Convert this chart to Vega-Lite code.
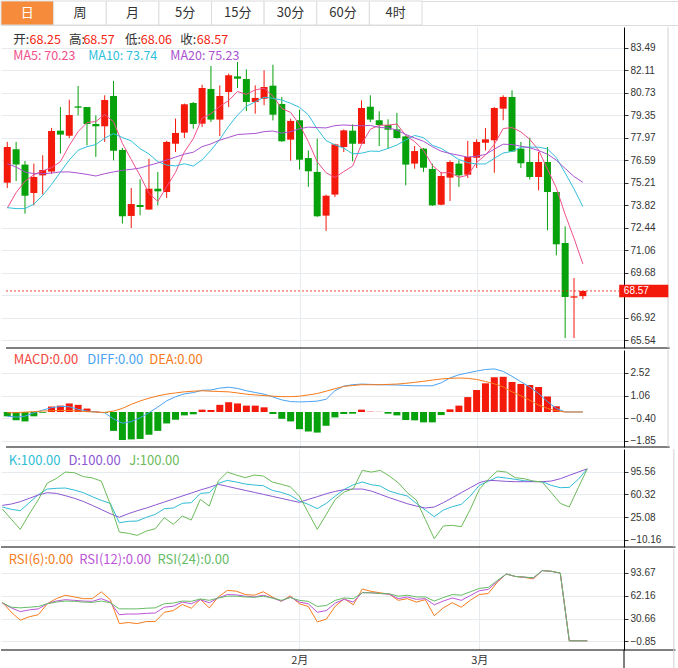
{
  "$schema": "https://vega.github.io/schema/vega-lite/v6.json",
  "padding": 0,
  "spacing": 0,
  "background": "white",
  "resolve": {"scale": {"color": "independent"}},
  "config": {
    "view": {"stroke": null},
    "axis": {"labelFont": "Liberation Sans", "labelFontSize": 10, "labelColor": "#333333", "gridColor": "#e6ebf0", "domainColor": "#000000", "tickColor": "#333333", "tickSize": 4, "labelPadding": 2, "labelOverlap": false},
    "text": {"font": "Noto Sans CJK SC", "fontSize": 13, "align": "left", "baseline": "middle"}
  },
  "datasets": {
    "one": [{}],
    "k": [
      {"i":0,"o":75.21,"h":77.71,"l":74.88,"c":77.40,"m5":73.65,"m10":73.68,"m20":76.38,"dif":-0.27,"dea":-0.05,"macd":-0.28,"kk":40.9,"dd":43.4,"jj":38,"r6":53.5,"r12":52.1,"r24":52.6},
      {"i":1,"o":77.26,"h":77.71,"l":75.31,"c":76.32,"m5":74.60,"m10":73.62,"m20":76.17,"dif":-0.33,"dea":-0.04,"macd":-0.54,"kk":37.3,"dd":45.5,"jj":22,"r6":39.4,"r12":45.5,"r24":46.4},
      {"i":2,"o":76.32,"h":76.54,"l":73.31,"c":74.41,"m5":75.30,"m10":73.62,"m20":75.87,"dif":-0.27,"dea":-0.01,"macd":-0.61,"kk":35.2,"dd":49.2,"jj":6.3,"r6":28.5,"r12":40.3,"r24":45.5},
      {"i":3,"o":74.58,"h":76.38,"l":73.82,"c":75.56,"m5":75.70,"m10":73.90,"m20":75.76,"dif":-0.05,"dea":0.02,"macd":-0.28,"kk":47.6,"dd":54.3,"jj":30,"r6":33.2,"r12":42.7,"r24":46.4},
      {"i":4,"o":75.66,"h":76.89,"l":74.48,"c":75.99,"m5":75.94,"m10":74.43,"m20":75.76,"dif":0.12,"dea":0.06,"macd":-0.05,"kk":60.0,"dd":59.5,"jj":52,"r6":36.0,"r12":44.1,"r24":47.4},
      {"i":5,"o":75.89,"h":78.57,"l":75.76,"c":78.38,"m5":76.13,"m10":75.10,"m20":75.80,"dif":0.28,"dea":0.08,"macd":0.35,"kk":68.7,"dd":63.1,"jj":78,"r6":51.2,"r12":51.2,"r24":51.2},
      {"i":6,"o":78.40,"h":79.85,"l":76.99,"c":78.16,"m5":76.50,"m10":75.86,"m20":75.87,"dif":0.36,"dea":0.10,"macd":0.41,"kk":69.8,"dd":62.0,"jj":85,"r6":58.2,"r12":54.9,"r24":53.5},
      {"i":7,"o":78.09,"h":80.30,"l":77.95,"c":79.36,"m5":77.49,"m10":76.60,"m20":75.87,"dif":0.34,"dea":0.10,"macd":0.55,"kk":70.3,"dd":58.5,"jj":95,"r6":63.0,"r12":56.8,"r24":54.9},
      {"i":8,"o":79.89,"h":81.14,"l":79.34,"c":79.81,"m5":78.34,"m10":77.20,"m20":75.80,"dif":0.17,"dea":0.06,"macd":0.46,"kk":67.2,"dd":54.5,"jj":94,"r6":60.6,"r12":55.9,"r24":54.5},
      {"i":9,"o":79.85,"h":79.85,"l":77.50,"c":78.81,"m5":78.90,"m10":77.42,"m20":75.72,"dif":0.06,"dea":0.02,"macd":0.22,"kk":63.1,"dd":49.5,"jj":88,"r6":58.2,"r12":54.9,"r24":53.5},
      {"i":10,"o":78.81,"h":79.34,"l":76.79,"c":78.67,"m5":78.96,"m10":77.55,"m20":75.62,"dif":-0.01,"dea":-0.01,"macd":0.03,"kk":56.9,"dd":43.5,"jj":86,"r6":58.2,"r12":54.5,"r24":53.0},
      {"i":11,"o":78.67,"h":80.57,"l":77.71,"c":80.28,"m5":79.39,"m10":77.94,"m20":75.76,"dif":-0.05,"dea":-0.03,"macd":-0.05,"kk":51.2,"dd":37.0,"jj":81,"r6":67.7,"r12":58.2,"r24":54.9},
      {"i":12,"o":80.53,"h":81.45,"l":76.58,"c":77.17,"m5":78.95,"m10":78.22,"m20":75.87,"dif":-0.45,"dea":0.06,"macd":-1.22,"kk":46.6,"dd":30.5,"jj":45,"r6":56.8,"r12":53.5,"r24":52.6},
      {"i":13,"o":77.22,"h":77.34,"l":72.70,"c":73.15,"m5":77.62,"m10":77.98,"m20":75.97,"dif":-0.72,"dea":0.23,"macd":-1.81,"kk":16.6,"dd":25.0,"jj":2.2,"r6":23.8,"r12":36.0,"r24":44.1},
      {"i":14,"o":73.17,"h":74.88,"l":72.43,"c":73.90,"m5":76.63,"m10":77.77,"m20":76.03,"dif":-0.62,"dea":0.49,"macd":-1.77,"kk":18.7,"dd":30.5,"jj":0.1,"r6":25.2,"r12":37.0,"r24":44.1},
      {"i":15,"o":73.84,"h":75.42,"l":73.21,"c":73.72,"m5":75.64,"m10":77.30,"m20":76.11,"dif":-0.38,"dea":0.71,"macd":-1.74,"kk":19.2,"dd":35.2,"jj":-3.0,"r6":23.8,"r12":37.0,"r24":44.1},
      {"i":16,"o":73.56,"h":76.68,"l":73.56,"c":74.84,"m5":74.56,"m10":76.97,"m20":76.27,"dif":-0.05,"dea":0.89,"macd":-1.47,"kk":24.9,"dd":39.3,"jj":3.7,"r6":26.6,"r12":37.9,"r24":45.0},
      {"i":17,"o":74.84,"h":75.87,"l":73.82,"c":74.68,"m5":74.06,"m10":76.50,"m20":76.42,"dif":0.32,"dea":1.04,"macd":-1.22,"kk":29.5,"dd":44.0,"jj":7.3,"r6":26.6,"r12":38.4,"r24":45.5},
      {"i":18,"o":74.64,"h":77.77,"l":74.27,"c":77.71,"m5":74.97,"m10":76.29,"m20":76.60,"dif":0.72,"dea":1.15,"macd":-0.74,"kk":38.3,"dd":48.6,"jj":24.4,"r6":39.4,"r12":46.4,"r24":51.2},
      {"i":19,"o":77.60,"h":79.14,"l":77.09,"c":78.26,"m5":75.84,"m10":76.24,"m20":76.78,"dif":0.98,"dea":1.23,"macd":-0.50,"kk":39.3,"dd":53.3,"jj":14.0,"r6":41.7,"r12":47.8,"r24":52.1},
      {"i":20,"o":78.28,"h":80.06,"l":77.95,"c":80.02,"m5":77.10,"m10":76.37,"m20":76.96,"dif":1.17,"dea":1.30,"macd":-0.22,"kk":46.6,"dd":57.9,"jj":26.9,"r6":50.2,"r12":53.5,"r24":54.9},
      {"i":21,"o":80.10,"h":80.16,"l":78.52,"c":78.81,"m5":77.90,"m10":76.23,"m20":77.08,"dif":1.25,"dea":1.34,"macd":-0.15,"kk":47.6,"dd":62.5,"jj":20.7,"r6":45.0,"r12":51.2,"r24":54.5},
      {"i":22,"o":78.83,"h":81.22,"l":78.63,"c":81.02,"m5":79.16,"m10":76.61,"m20":77.42,"dif":1.40,"dea":1.37,"macd":0.15,"kk":62.0,"dd":67.2,"jj":52.7,"r6":57.3,"r12":56.8,"r24":57.8},
      {"i":23,"o":80.96,"h":82.37,"l":78.93,"c":79.08,"m5":79.44,"m10":77.20,"m20":77.59,"dif":1.42,"dea":1.34,"macd":0.13,"kk":63.1,"dd":71.3,"jj":42.4,"r6":45.5,"r12":52.6,"r24":55.9},
      {"i":24,"o":79.08,"h":81.18,"l":78.07,"c":80.53,"m5":79.89,"m10":77.87,"m20":77.82,"dif":1.54,"dea":1.32,"macd":0.46,"kk":77.5,"dd":76.0,"jj":81.1,"r6":60.6,"r12":59.2,"r24":59.2},
      {"i":25,"o":80.77,"h":81.90,"l":79.85,"c":81.80,"m5":80.25,"m10":78.68,"m20":77.99,"dif":1.60,"dea":1.30,"macd":0.63,"kk":82.1,"dd":72.9,"jj":95.0,"r6":69.6,"r12":63.9,"r24":61.6},
      {"i":26,"o":81.73,"h":82.61,"l":81.02,"c":81.59,"m5":80.80,"m10":79.35,"m20":78.16,"dif":1.52,"dea":1.23,"macd":0.55,"kk":79.6,"dd":69.7,"jj":90.4,"r6":68.6,"r12":63.4,"r24":61.6},
      {"i":27,"o":81.57,"h":82.16,"l":79.61,"c":80.16,"m5":80.63,"m10":79.90,"m20":78.20,"dif":1.37,"dea":1.15,"macd":0.41,"kk":76.5,"dd":66.7,"jj":86.3,"r6":63.9,"r12":61.6,"r24":60.6},
      {"i":28,"o":80.16,"h":81.18,"l":79.44,"c":80.41,"m5":80.90,"m10":80.17,"m20":78.23,"dif":1.26,"dea":1.10,"macd":0.41,"kk":74.9,"dd":63.6,"jj":90.4,"r6":63.0,"r12":60.6,"r24":60.1},
      {"i":29,"o":80.36,"h":82.10,"l":79.96,"c":81.08,"m5":81.01,"m10":80.45,"m20":78.34,"dif":1.15,"dea":1.06,"macd":0.30,"kk":73.9,"dd":60.5,"jj":88.9,"r6":67.7,"r12":63.0,"r24":61.6},
      {"i":30,"o":81.16,"h":82.45,"l":79.03,"c":79.38,"m5":80.52,"m10":80.39,"m20":78.38,"dif":0.97,"dea":1.02,"macd":-0.13,"kk":66.7,"dd":57.4,"jj":79.6,"r6":60.6,"r12":59.2,"r24":59.2},
      {"i":31,"o":80.04,"h":80.47,"l":77.71,"c":77.75,"m5":79.76,"m10":80.28,"m20":78.25,"dif":0.78,"dea":0.99,"macd":-0.44,"kk":63.6,"dd":54.3,"jj":76.0,"r6":54.5,"r12":54.9,"r24":55.9},
      {"i":32,"o":77.85,"h":79.14,"l":76.56,"c":79.00,"m5":79.52,"m10":80.08,"m20":78.34,"dif":0.67,"dea":0.99,"macd":-0.61,"kk":58.9,"dd":51.2,"jj":72.3,"r6":62.0,"r12":60.6,"r24":59.7},
      {"i":33,"o":79.04,"h":79.69,"l":76.01,"c":76.62,"m5":78.77,"m10":79.83,"m20":78.52,"dif":0.65,"dea":1.02,"macd":-1.11,"kk":50.2,"dd":48.1,"jj":57.9,"r6":51.2,"r12":53.5,"r24":55.9},
      {"i":34,"o":76.72,"h":77.19,"l":74.95,"c":75.91,"m5":77.73,"m10":79.37,"m20":78.62,"dif":0.67,"dea":1.10,"macd":-1.26,"kk":45.0,"dd":52.7,"jj":32.1,"r6":47.4,"r12":51.2,"r24":54.5},
      {"i":35,"o":75.87,"h":77.91,"l":73.11,"c":73.15,"m5":76.49,"m10":78.51,"m20":78.59,"dif":0.70,"dea":1.19,"macd":-1.33,"kk":38.3,"dd":56.9,"jj":6.3,"r6":26.1,"r12":39.4,"r24":47.4},
      {"i":36,"o":73.19,"h":74.47,"l":72.25,"c":74.41,"m5":75.82,"m10":77.79,"m20":78.57,"dif":0.82,"dea":1.34,"macd":-0.89,"kk":46.6,"dd":61.5,"jj":29.5,"r6":29.9,"r12":41.7,"r24":48.8},
      {"i":37,"o":74.48,"h":77.60,"l":74.33,"c":77.56,"m5":75.53,"m10":77.53,"m20":78.71,"dif":1.37,"dea":1.50,"macd":-0.35,"kk":57.9,"dd":65.1,"jj":52.7,"r6":47.8,"r12":52.1,"r24":55.9},
      {"i":38,"o":77.40,"h":78.48,"l":77.09,"c":78.42,"m5":75.89,"m10":77.33,"m20":78.75,"dif":1.67,"dea":1.65,"macd":-0.13,"kk":68.2,"dd":67.7,"jj":64.1,"r6":58.2,"r12":57.3,"r24":59.2},
      {"i":39,"o":78.40,"h":78.79,"l":76.52,"c":77.60,"m5":76.23,"m10":76.98,"m20":78.72,"dif":1.76,"dea":1.71,"macd":-0.11,"kk":75.4,"dd":68.7,"jj":69.2,"r6":49.7,"r12":53.5,"r24":58.2},
      {"i":40,"o":77.60,"h":80.26,"l":77.60,"c":79.79,"m5":77.56,"m10":77.02,"m20":78.70,"dif":1.80,"dea":1.76,"macd":0.15,"kk":79.6,"dd":68.7,"jj":97.6,"r6":71.5,"r12":66.7,"r24":66.3},
      {"i":41,"o":79.87,"h":80.57,"l":78.93,"c":79.08,"m5":78.49,"m10":77.15,"m20":78.72,"dif":1.78,"dea":1.76,"macd":0.02,"kk":75.4,"dd":65.6,"jj":95.0,"r6":68.2,"r12":66.3,"r24":66.3},
      {"i":42,"o":79.04,"h":79.59,"l":77.46,"c":78.75,"m5":78.73,"m10":77.13,"m20":78.60,"dif":1.76,"dea":1.76,"macd":0.01,"kk":73.4,"dd":60.5,"jj":97.6,"r6":66.3,"r12":65.3,"r24":65.3},
      {"i":43,"o":78.75,"h":79.10,"l":77.30,"c":78.46,"m5":78.74,"m10":77.31,"m20":78.57,"dif":1.75,"dea":1.78,"macd":-0.11,"kk":65.6,"dd":55.3,"jj":88.9,"r6":64.4,"r12":64.4,"r24":64.9},
      {"i":44,"o":78.48,"h":79.49,"l":77.91,"c":77.95,"m5":78.81,"m10":77.52,"m20":78.44,"dif":1.74,"dea":1.80,"macd":-0.22,"kk":61.5,"dd":50.7,"jj":78.5,"r6":55.9,"r12":58.2,"r24":61.6},
      {"i":45,"o":78.05,"h":78.11,"l":75.05,"c":76.32,"m5":78.11,"m10":77.83,"m20":78.17,"dif":1.71,"dea":1.85,"macd":-0.52,"kk":57.9,"dd":46.0,"jj":63.1,"r6":58.2,"r12":60.6,"r24":63.0},
      {"i":46,"o":76.38,"h":77.46,"l":76.07,"c":77.15,"m5":77.73,"m10":78.11,"m20":77.95,"dif":1.69,"dea":1.91,"macd":-0.54,"kk":46.6,"dd":42.4,"jj":51.7,"r6":53.5,"r12":57.3,"r24":60.6},
      {"i":47,"o":77.30,"h":77.34,"l":75.87,"c":76.13,"m5":77.20,"m10":77.97,"m20":77.75,"dif":1.69,"dea":1.98,"macd":-0.67,"kk":36.2,"dd":39.3,"jj":21.8,"r6":56.8,"r12":58.2,"r24":60.6},
      {"i":48,"o":76.05,"h":76.38,"l":73.78,"c":73.82,"m5":76.27,"m10":77.51,"m20":77.42,"dif":1.69,"dea":2.06,"macd":-0.67,"kk":25.9,"dd":40.9,"jj":-8.2,"r6":34.6,"r12":49.7,"r24":54.9},
      {"i":49,"o":73.86,"h":75.87,"l":73.82,"c":75.62,"m5":75.81,"m10":77.31,"m20":77.14,"dif":1.88,"dea":2.13,"macd":-0.20,"kk":36.2,"dd":47.6,"jj":11.5,"r6":45.5,"r12":54.9,"r24":59.7},
      {"i":50,"o":75.52,"h":76.58,"l":74.09,"c":76.48,"m5":75.84,"m10":76.98,"m20":77.00,"dif":2.20,"dea":2.17,"macd":0.17,"kk":41.4,"dd":55.3,"jj":12.5,"r6":52.6,"r12":59.2,"r24":63.9},
      {"i":51,"o":76.38,"h":76.58,"l":74.95,"c":75.66,"m5":75.54,"m10":76.63,"m20":76.89,"dif":2.40,"dea":2.19,"macd":0.41,"kk":45.0,"dd":63.1,"jj":10.4,"r6":46.4,"r12":55.9,"r24":63.0},
      {"i":52,"o":75.70,"h":77.77,"l":75.50,"c":76.79,"m5":75.67,"m10":76.44,"m20":76.78,"dif":2.52,"dea":2.17,"macd":0.96,"kk":57.9,"dd":70.8,"jj":37.3,"r6":55.9,"r12":62.5,"r24":67.7},
      {"i":53,"o":76.74,"h":77.87,"l":76.11,"c":77.71,"m5":76.45,"m10":76.36,"m20":76.84,"dif":2.64,"dea":2.10,"macd":1.42,"kk":74.4,"dd":78.5,"jj":68.2,"r6":63.9,"r12":69.1,"r24":72.4},
      {"i":54,"o":77.66,"h":78.56,"l":77.19,"c":77.87,"m5":76.90,"m10":76.36,"m20":76.94,"dif":2.74,"dea":1.97,"macd":1.85,"kk":80.6,"dd":82.2,"jj":83.7,"r6":65.3,"r12":71.0,"r24":73.8},
      {"i":55,"o":77.81,"h":79.85,"l":75.82,"c":79.79,"m5":77.56,"m10":76.70,"m20":77.27,"dif":2.78,"dea":1.82,"macd":2.24,"kk":87.3,"dd":81.6,"jj":96.6,"r6":80.9,"r12":81.9,"r24":83.3},
      {"i":56,"o":79.75,"h":80.57,"l":79.04,"c":80.47,"m5":78.53,"m10":77.03,"m20":77.57,"dif":2.62,"dea":1.62,"macd":2.27,"kk":85.8,"dd":80.6,"jj":95.0,"r6":92.3,"r12":92.3,"r24":92.3},
      {"i":57,"o":80.47,"h":80.88,"l":77.09,"c":77.13,"m5":78.59,"m10":77.13,"m20":77.55,"dif":2.30,"dea":1.30,"macd":1.94,"kk":83.7,"dd":80.1,"jj":86.3,"r6":88.9,"r12":88.9,"r24":88.9},
      {"i":58,"o":77.30,"h":77.71,"l":76.11,"c":76.40,"m5":78.33,"m10":77.39,"m20":77.45,"dif":1.95,"dea":1.04,"macd":1.81,"kk":81.6,"dd":80.1,"jj":84.7,"r6":87.5,"r12":88.0,"r24":88.0},
      {"i":59,"o":76.48,"h":77.97,"l":75.40,"c":75.56,"m5":77.87,"m10":77.39,"m20":77.35,"dif":1.62,"dea":0.76,"macd":1.74,"kk":80.6,"dd":80.1,"jj":81.1,"r6":85.6,"r12":86.6,"r24":87.1},
      {"i":60,"o":75.56,"h":77.09,"l":74.74,"c":76.48,"m5":77.21,"m10":77.39,"m20":77.18,"dif":1.19,"dea":0.45,"macd":1.61,"kk":80.1,"dd":80.1,"jj":79.6,"r6":97.0,"r12":97.0,"r24":97.0},
      {"i":61,"o":76.48,"h":77.40,"l":72.29,"c":74.64,"m5":76.04,"m10":77.28,"m20":76.96,"dif":0.67,"dea":0.23,"macd":1.00,"kk":74.4,"dd":81.1,"jj":63.1,"r6":96.0,"r12":96.0,"r24":96.0},
      {"i":62,"o":74.64,"h":74.64,"l":70.75,"c":71.43,"m5":74.90,"m10":76.75,"m20":76.59,"dif":0.23,"dea":0.08,"macd":0.37,"kk":70.8,"dd":84.7,"jj":46.6,"r6":93.5,"r12":93.5,"r24":93.5},
      {"i":63,"o":71.51,"h":72.53,"l":65.68,"c":68.20,"m5":73.26,"m10":75.80,"m20":76.08,"dif":0,"dea":0,"macd":0,"kk":71.3,"dd":89.9,"jj":40.9,"r6":0,"r12":0,"r24":0},
      {"i":64,"o":68.16,"h":69.36,"l":65.68,"c":68.24,"m5":71.80,"m10":74.83,"m20":75.59,"dif":0,"dea":0,"macd":0,"kk":83.7,"dd":95.0,"jj":70.8,"r6":0,"r12":0,"r24":0},
      {"i":65,"o":68.25,"h":68.57,"l":68.06,"c":68.57,"m5":70.23,"m10":73.74,"m20":75.23,"dif":0,"dea":0,"macd":0,"kk":100,"dd":100,"jj":100,"r6":0,"r12":0,"r24":0}
    ]
  },
  "vconcat": [
    {
      "width": 678,
      "height": 24,
      "view": {"stroke": "#dcdcdc"},
      "data": {"values": [{"t": "日"}, {"t": "周"}, {"t": "月"}, {"t": "5分"}, {"t": "15分"}, {"t": "30分"}, {"t": "60分"}, {"t": "4时"}]},
      "encoding": {"x": {"field": "t", "type": "nominal", "sort": null, "scale": {"type": "band", "range": [0, 421], "paddingInner": 0, "paddingOuter": 0}, "axis": null}},
      "layer": [
        {"mark": {"type": "rect", "stroke": "#dcdcdc", "strokeWidth": 1}, "encoding": {"fill": {"condition": {"test": "datum.t === '日'", "value": "#f68b3c"}, "value": "#ffffff"}}},
        {"mark": {"type": "text", "align": "center"}, "encoding": {"text": {"field": "t"}, "color": {"condition": {"test": "datum.t === '日'", "value": "#ffffff"}, "value": "#333333"}}}
      ]
    },
    {
      "width": 623,
      "height": 321,
      "layer": [
        {"data": {"name": "k"}, "mark": {"type": "rule", "strokeWidth": 1}, "encoding": {
          "x": {"field": "i", "type": "quantitative", "title": null, "scale": {"domain": [-0.144, 69.08], "nice": false, "zero": false}, "axis": {"values": [33, 53], "tickCount": 40, "grid": true, "labels": false, "ticks": false, "domain": false, "title": null}},
          "y": {"field": "l", "type": "quantitative", "title": null, "scale": {"domain": [65.07, 84.76], "nice": false, "zero": false}, "axis": {"orient": "right", "values": [65.54, 66.92, 68.30, 69.68, 71.06, 72.44, 73.82, 75.21, 76.59, 77.97, 79.35, 80.73, 82.11, 83.49], "tickCount": 40, "format": ".2f", "labelExpr": "datum.value == 68.3 ? '' : datum.label", "grid": true, "title": null}},
          "y2": {"field": "h"},
          "color": {"condition": {"test": "datum.c >= datum.o", "value": "#f3190b"}, "value": "#06a10b"}}},
        {"data": {"name": "k"}, "mark": {"type": "bar", "size": 7}, "encoding": {
          "x": {"field": "i", "type": "quantitative", "title": null},
          "y": {"field": "o", "type": "quantitative", "title": null},
          "y2": {"field": "c"},
          "color": {"condition": {"test": "datum.c >= datum.o", "value": "#f3190b"}, "value": "#06a10b"}}},
        {"data": {"name": "k"}, "transform": [{"fold": ["m5", "m10", "m20"], "as": ["ma", "v"]}],
         "mark": {"type": "line", "strokeWidth": 1},
         "encoding": {
          "x": {"field": "i", "type": "quantitative", "title": null},
          "y": {"field": "v", "type": "quantitative", "title": null},
          "color": {"field": "ma", "type": "nominal", "scale": {"domain": ["m5", "m10", "m20"], "range": ["#ef4f8b", "#33bfdc", "#aa53cf"]}, "legend": null}}},
        {"data": {"name": "one"}, "mark": {"type": "rule", "strokeDash": [2, 2], "color": "#f3190b", "opacity": 0.8}, "encoding": {"x": {"datum": -0.144}, "x2": {"datum": 69.08}, "y": {"datum": 68.57}}},
        {"data": {"name": "one"}, "mark": {"type": "rule", "color": "#000000"}, "encoding": {"x": {"datum": -0.144}, "x2": {"datum": 74.8}, "y": {"datum": 65.07}}},
        {"data": {"name": "one"}, "mark": {"type": "rule", "color": "#d2d2d2"}, "encoding": {"x": {"datum": 74.62}, "y": {"datum": 65.07}, "y2": {"datum": 84.76}}},
        {"data": {"name": "one"}, "mark": {"type": "rect", "color": "#f3190b"}, "encoding": {"x": {"datum": 69.1}, "x2": {"datum": 74.65}, "y": {"datum": 68.95}, "y2": {"datum": 68.18}}},
        {"data": {"name": "one"}, "mark": {"type": "text", "color": "#ffffff", "font": "Liberation Sans", "fontSize": 10}, "encoding": {"x": {"datum": 69.63}, "y": {"datum": 68.57}, "text": {"value": "68.57"}}},
        {"data": {"name": "one"}, "mark": {"type": "text", "color": "#333333", "fontSize": 12.5}, "encoding": {"x": {"datum": 0.678}, "y": {"datum": 83.96}, "text": {"value": "开:"}}},
        {"data": {"name": "one"}, "mark": {"type": "text", "color": "#f5230f", "fontSize": 12.5}, "encoding": {"x": {"datum": 2.523}, "y": {"datum": 83.96}, "text": {"value": "68.25"}}},
        {"data": {"name": "one"}, "mark": {"type": "text", "color": "#333333", "fontSize": 12.5}, "encoding": {"x": {"datum": 6.967}, "y": {"datum": 83.96}, "text": {"value": "高:"}}},
        {"data": {"name": "one"}, "mark": {"type": "text", "color": "#f5230f", "fontSize": 12.5}, "encoding": {"x": {"datum": 8.6}, "y": {"datum": 83.96}, "text": {"value": "68.57"}}},
        {"data": {"name": "one"}, "mark": {"type": "text", "color": "#333333", "fontSize": 12.5}, "encoding": {"x": {"datum": 13.3}, "y": {"datum": 83.96}, "text": {"value": "低:"}}},
        {"data": {"name": "one"}, "mark": {"type": "text", "color": "#f5230f", "fontSize": 12.5}, "encoding": {"x": {"datum": 15.08}, "y": {"datum": 83.96}, "text": {"value": "68.06"}}},
        {"data": {"name": "one"}, "mark": {"type": "text", "color": "#333333", "fontSize": 12.5}, "encoding": {"x": {"datum": 19.52}, "y": {"datum": 83.96}, "text": {"value": "收:"}}},
        {"data": {"name": "one"}, "mark": {"type": "text", "color": "#f5230f", "fontSize": 12.5}, "encoding": {"x": {"datum": 21.41}, "y": {"datum": 83.96}, "text": {"value": "68.57"}}},
        {"data": {"name": "one"}, "mark": {"type": "text", "color": "#ef4f8b", "fontSize": 12.5}, "encoding": {"x": {"datum": 0.678}, "y": {"datum": 83.0}, "text": {"value": "MA5: 70.23"}}},
        {"data": {"name": "one"}, "mark": {"type": "text", "color": "#33bfdc", "fontSize": 12.5}, "encoding": {"x": {"datum": 9.134}, "y": {"datum": 83.0}, "text": {"value": "MA10: 73.74"}}},
        {"data": {"name": "one"}, "mark": {"type": "text", "color": "#aa53cf", "fontSize": 12.5}, "encoding": {"x": {"datum": 18.41}, "y": {"datum": 83.0}, "text": {"value": "MA20: 75.23"}}}
      ]
    },
    {
      "width": 623,
      "height": 97,
      "layer": [
        {"data": {"name": "k"}, "mark": {"type": "bar", "size": 7}, "encoding": {
          "x": {"field": "i", "type": "quantitative", "title": null, "scale": {"domain": [-0.144, 69.08], "nice": false, "zero": false}, "axis": {"values": [33, 53], "tickCount": 40, "grid": true, "labels": false, "ticks": false, "domain": false, "title": null}},
          "y": {"field": "macd", "type": "quantitative", "title": null, "scale": {"domain": [-2.26, 4.0], "nice": false, "zero": false}, "axis": {"orient": "right", "values": [-1.85, -0.40, 1.06, 2.52], "tickCount": 40, "format": ".2f", "grid": true, "title": null}},
          "y2": {"datum": 0},
          "color": {"condition": {"test": "datum.macd >= 0", "value": "#f3190b"}, "value": "#06a10b"}}},
        {"data": {"name": "k"}, "transform": [{"fold": ["dif", "dea"], "as": ["s", "v"]}],
         "mark": {"type": "line", "strokeWidth": 1},
         "encoding": {
          "x": {"field": "i", "type": "quantitative", "title": null},
          "y": {"field": "v", "type": "quantitative", "title": null},
          "color": {"field": "s", "type": "nominal", "scale": {"domain": ["dif", "dea"], "range": ["#4aa3f2", "#f77a1a"]}, "legend": null}}},
        {"data": {"name": "one"}, "mark": {"type": "rule", "color": "#000000"}, "encoding": {"x": {"datum": -0.144}, "x2": {"datum": 74.8}, "y": {"datum": -2.26}}},
        {"data": {"name": "one"}, "mark": {"type": "rule", "color": "#d2d2d2"}, "encoding": {"x": {"datum": 74.62}, "y": {"datum": -2.26}, "y2": {"datum": 4.0}}},
        {"data": {"name": "one"}, "mark": {"type": "text", "color": "#f3453c"}, "encoding": {"x": {"datum": 0.723}, "y": {"datum": 3.35}, "text": {"value": "MACD:0.00"}}},
        {"data": {"name": "one"}, "mark": {"type": "text", "color": "#4aa3f2"}, "encoding": {"x": {"datum": 9.034}, "y": {"datum": 3.35}, "text": {"value": "DIFF:0.00"}}},
        {"data": {"name": "one"}, "mark": {"type": "text", "color": "#f77a1a"}, "encoding": {"x": {"datum": 16.03}, "y": {"datum": 3.35}, "text": {"value": "DEA:0.00"}}}
      ]
    },
    {
      "width": 623,
      "height": 98,
      "layer": [
        {"data": {"name": "k"}, "transform": [{"fold": ["kk", "dd", "jj"], "as": ["s", "v"]}],
         "mark": {"type": "line", "strokeWidth": 1},
         "encoding": {
          "x": {"field": "i", "type": "quantitative", "title": null, "scale": {"domain": [-0.144, 69.08], "nice": false, "zero": false}, "axis": {"values": [33, 53], "tickCount": 40, "grid": true, "labels": false, "ticks": false, "domain": false, "title": null}},
          "y": {"field": "v", "type": "quantitative", "title": null, "scale": {"domain": [-21.0, 130.7], "nice": false, "zero": false}, "axis": {"orient": "right", "values": [-10.16, 25.08, 60.32, 95.56], "tickCount": 40, "format": ".2f", "grid": true, "title": null}},
          "color": {"field": "s", "type": "nominal", "scale": {"domain": ["kk", "dd", "jj"], "range": ["#31bdd5", "#8c57d2", "#6cbb5a"]}, "legend": null}}},
        {"data": {"name": "one"}, "mark": {"type": "rule", "color": "#000000"}, "encoding": {"x": {"datum": -0.144}, "x2": {"datum": 74.8}, "y": {"datum": -21.0}}},
        {"data": {"name": "one"}, "mark": {"type": "rule", "color": "#d2d2d2"}, "encoding": {"x": {"datum": 74.62}, "y": {"datum": -21.0}, "y2": {"datum": 130.7}}},
        {"data": {"name": "one"}, "mark": {"type": "text", "color": "#31bdd5"}, "encoding": {"x": {"datum": 0.723}, "y": {"datum": 112.1}, "text": {"value": "K:100.00"}}},
        {"data": {"name": "one"}, "mark": {"type": "text", "color": "#8c57d2"}, "encoding": {"x": {"datum": 7.345}, "y": {"datum": 112.1}, "text": {"value": "D:100.00"}}},
        {"data": {"name": "one"}, "mark": {"type": "text", "color": "#6cbb5a"}, "encoding": {"x": {"datum": 14.11}, "y": {"datum": 112.1}, "text": {"value": "J:100.00"}}}
      ]
    },
    {
      "width": 623,
      "height": 101,
      "layer": [
        {"data": {"name": "k"}, "transform": [{"fold": ["r6", "r12", "r24"], "as": ["s", "v"]}],
         "mark": {"type": "line", "strokeWidth": 1},
         "encoding": {
          "x": {"field": "i", "type": "quantitative", "title": null, "scale": {"domain": [-0.144, 69.08], "nice": false, "zero": false}, "axis": {"values": [33, 53], "tickCount": 40, "grid": true, "labels": true, "ticks": false, "domain": false, "title": null, "labelExpr": "datum.value === 33 ? '2月' : '3月'", "labelFont": "Noto Sans CJK SC", "labelFontSize": 11, "labelPadding": 4}},
          "y": {"field": "v", "type": "quantitative", "title": null, "scale": {"domain": [-12.73, 126.83], "nice": false, "zero": false}, "axis": {"orient": "right", "values": [-0.85, 30.66, 62.16, 93.67], "tickCount": 40, "format": ".2f", "grid": true, "title": null}},
          "color": {"field": "s", "type": "nominal", "scale": {"domain": ["r6", "r12", "r24"], "range": ["#f57d20", "#bc55d8", "#66bb66"]}, "legend": null}}},
        {"data": {"name": "one"}, "mark": {"type": "rule", "color": "#000000"}, "encoding": {"x": {"datum": -0.144}, "x2": {"datum": 74.8}, "y": {"datum": -12.73}}},
        {"data": {"name": "one"}, "mark": {"type": "rule", "color": "#000000"}, "encoding": {"x": {"datum": 69.08}, "y": {"datum": -12.73}, "y2": {"datum": -48.6}}},
        {"data": {"name": "one"}, "mark": {"type": "rule", "color": "#d2d2d2"}, "encoding": {"x": {"datum": 74.62}, "y": {"datum": -48.6}, "y2": {"datum": 126.83}}},
        {"data": {"name": "one"}, "mark": {"type": "text", "color": "#f57d20"}, "encoding": {"x": {"datum": 0.723}, "y": {"datum": 111.6}, "text": {"value": "RSI(6):0.00"}}},
        {"data": {"name": "one"}, "mark": {"type": "text", "color": "#bc55d8"}, "encoding": {"x": {"datum": 8.556}, "y": {"datum": 111.6}, "text": {"value": "RSI(12):0.00"}}},
        {"data": {"name": "one"}, "mark": {"type": "text", "color": "#66bb66"}, "encoding": {"x": {"datum": 17.24}, "y": {"datum": 111.6}, "text": {"value": "RSI(24):0.00"}}}
      ]
    }
  ]
}
